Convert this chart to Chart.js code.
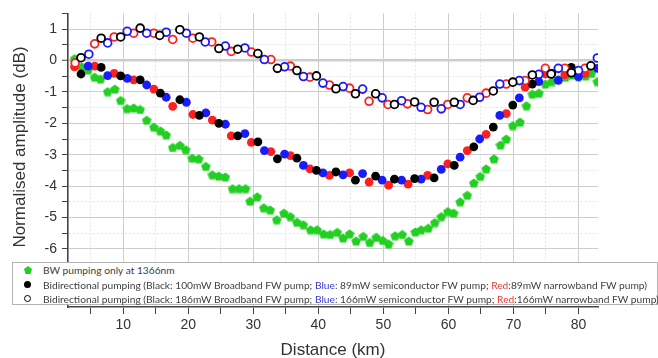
<!DOCTYPE html>
<html>
<head>
<meta charset="utf-8">
<script src="https://cdn.jsdelivr.net/npm/chart.js@4.4.1/dist/chart.umd.min.js"></script>
<style>
  html, body { margin: 0; padding: 0; background: #fff; }
  #wrap { position: relative; width: 658px; height: 358px; }
  #legend {
    position: absolute; left: 12px; top: 262px; width: 646px; height: 43px;
    box-sizing: border-box; border: 1px solid #b4b4b4; background: #fff;
    font-family: Lato, "Open Sans", sans-serif; font-size: 10px; color: #404040;
  }
  .row { position: absolute; left: 30px; height: 14px; line-height: 14px; white-space: nowrap; }
  .mk { position: absolute; left: 11px; width: 7px; height: 7px; box-sizing: border-box; }
  .blue { color: #3a3ad6; }
  .red { color: #e63a3a; }
</style>
</head>
<body>
<div id="wrap">
  <canvas id="chart" width="658" height="358"></canvas>
  <div id="legend">
    <span class="mk" style="top:3px;background:#22d022;clip-path:polygon(50% 0,100% 38%,81% 100%,19% 100%,0 38%);width:8px;height:8px;"></span>
    <div class="row" style="top:0px">BW pumping only at 1366nm</div>
    <span class="mk" style="top:18px;background:#000;border-radius:50%;"></span>
    <div class="row" id="row2" style="top:15px">Bidirectional pumping (Black: 100mW Broadband FW pump; <span class="blue">Blue</span>: 89mW semiconductor FW pump; <span class="red">Red</span>:89mW narrowband FW pump)</div>
    <span class="mk" style="top:32px;border:1.6px solid #000;border-radius:50%;"></span>
    <div class="row" style="top:29px">Bidirectional pumping (Black: 186mW Broadband FW pump; <span class="blue">Blue</span>: 166mW semiconductor FW pump; <span class="red">Red</span>:166mW narrowband FW pump)</div>
  </div>
</div>
<script>
/* ---------- data (distance in km, normalised amplitude in dB) ---------- */
const X_TITLE = "Distance (km)";
const Y_TITLE = "Normalised amplitude (dB)";

// BW pumping only (green)
const greenKm = [2.5, 3.6, 4.6, 5.6, 6.5, 7.6, 8.7, 9.6, 10.6, 11.6, 12.6, 13.6, 14.7, 15.7, 16.6, 17.6, 18.7, 19.6, 20.6, 21.6,
  22.7, 23.7, 24.7, 25.7, 26.8, 27.8, 28.8, 29.5, 30.6, 31.6, 32.6, 33.6, 34.7, 35.7, 36.7, 37.7, 38.8, 39.8, 40.8, 41.8,
  42.9, 43.8, 44.8, 45.8, 46.9, 47.9, 48.9, 49.9, 50.8, 51.8, 52.9, 53.9, 54.9, 55.8, 56.9, 57.9, 58.9, 59.9, 60.8, 61.8,
  62.9, 63.9, 64.9, 65.8, 67.0, 68.0, 68.9, 69.9, 71.0, 72.0, 72.9, 73.9, 74.9, 75.9, 76.9, 78.0, 79.0, 80.0, 81.1, 82.0, 82.9];
const greenDb = [0.06, -0.2, -0.3, -0.53, -0.59, -0.99, -0.91, -1.27, -1.53, -1.51, -1.56, -1.9, -2.12, -2.24, -2.37, -2.77, -2.7, -2.84, -3.11, -3.13,
  -3.37, -3.64, -3.68, -3.71, -4.08, -4.08, -4.08, -4.48, -4.34, -4.69, -4.76, -5.07, -4.86, -4.97, -5.15, -5.23, -5.39, -5.39, -5.52, -5.54,
  -5.47, -5.65, -5.52, -5.75, -5.6, -5.79, -5.63, -5.73, -5.84, -5.58, -5.54, -5.75, -5.46, -5.39, -5.34, -5.16, -4.97, -4.81, -4.86, -4.5,
  -4.29, -3.9, -3.69, -3.45, -3.13, -2.69, -2.5, -2.07, -1.96, -1.44, -1.07, -1.04, -0.75, -0.67, -0.6, -0.53, -0.46, -0.51, -0.49, -0.41, -0.67];

// Bidirectional pumping, lower FW power (filled markers)
const fillBlackKm = [3.5, 6.6, 9.6, 12.6, 15.7, 18.7, 21.7, 24.7, 27.6, 30.7, 33.7, 36.7, 39.7, 42.7, 45.7, 48.8, 51.7, 54.8, 57.8, 60.9, 63.9, 66.9, 69.9, 72.9, 75.9, 78.9];
const fillBlackDb = [-0.43, -0.22, -0.49, -0.62, -1.04, -1.25, -1.75, -2.0, -2.4, -2.59, -3.13, -3.11, -3.5, -3.55, -3.81, -3.68, -3.78, -3.76, -3.74, -3.34, -2.75, -2.12, -1.42, -0.75, -0.41, -0.22];
const fillBlueKm = [4.6, 7.6, 10.6, 13.6, 16.6, 19.7, 22.7, 25.7, 28.7, 31.7, 34.8, 37.7, 40.7, 43.8, 46.8, 49.8, 52.8, 55.8, 58.9, 61.8, 64.8, 67.9, 70.9, 73.9, 76.9, 80.0, 82.9];
const fillBlueDb = [-0.18, -0.48, -0.57, -0.78, -1.17, -1.33, -1.67, -2.03, -2.33, -2.87, -2.98, -3.34, -3.58, -3.64, -3.6, -3.81, -3.81, -3.78, -3.47, -3.08, -2.5, -1.75, -1.19, -0.67, -0.63, -0.51, -0.25];
const fillRedKm = [2.5, 5.6, 8.6, 11.6, 14.7, 17.6, 20.7, 23.7, 26.6, 29.7, 32.7, 35.7, 38.7, 41.7, 44.8, 47.8, 50.8, 53.8, 56.8, 59.9, 62.9, 65.8, 68.9, 71.8, 74.9, 77.9, 81.0];
const fillRedDb = [-0.2, -0.18, -0.41, -0.62, -0.91, -1.46, -1.72, -1.9, -2.4, -2.61, -2.9, -3.03, -3.45, -3.66, -3.58, -3.87, -3.97, -3.94, -3.66, -3.29, -2.87, -2.35, -1.69, -0.85, -0.43, -0.45, -0.41];

// Bidirectional pumping, higher FW power (open markers)
const openBlackKm = [3.5, 6.6, 9.6, 12.6, 15.6, 18.7, 21.7, 24.7, 27.6, 30.7, 33.7, 36.7, 39.7, 42.7, 45.7, 48.8, 51.7, 54.8, 57.8, 60.9, 63.8, 66.9, 69.9, 72.9, 75.8, 78.9, 81.9];
const openBlackDb = [0.09, 0.71, 0.75, 1.03, 0.8, 0.98, 0.75, 0.38, 0.36, 0.22, -0.25, -0.32, -0.49, -0.9, -1.06, -1.06, -1.4, -1.32, -1.33, -1.33, -1.27, -0.97, -0.69, -0.46, -0.43, -0.39, -0.17];
const openBlueKm = [4.7, 7.6, 10.6, 13.6, 16.6, 19.7, 22.6, 25.7, 28.7, 31.7, 34.8, 37.7, 40.7, 43.8, 46.8, 49.8, 52.8, 55.8, 58.9, 61.8, 64.8, 67.9, 70.9, 73.9, 76.9, 80.0, 82.9];
const openBlueDb = [0.2, 0.56, 0.93, 0.87, 0.9, 0.87, 0.59, 0.46, 0.4, 0.03, -0.2, -0.51, -0.72, -0.83, -0.91, -1.19, -1.28, -1.49, -1.54, -1.4, -1.17, -0.75, -0.64, -0.44, -0.25, -0.32, 0.08];
const openRedKm = [2.6, 5.6, 8.6, 11.6, 14.7, 17.6, 20.7, 23.6, 26.6, 29.7, 32.7, 35.7, 38.7, 41.7, 44.8, 47.8, 50.7, 53.7, 56.8, 59.9, 62.9, 65.8, 68.9, 71.8, 74.9, 77.9, 81.0];
const openRedDb = [-0.08, 0.53, 0.75, 0.87, 0.87, 0.67, 0.71, 0.59, 0.29, 0.27, 0.03, -0.18, -0.53, -0.78, -0.88, -1.3, -1.4, -1.38, -1.56, -1.4, -1.19, -1.04, -0.75, -0.64, -0.25, -0.25, -0.25];

/* ---------- helpers ---------- */
function pts(xs, ys) {
  return xs.map((x, i) => ({ x: x, y: ys[i] }));
}

// pentagon marker for the green series
function pentagon(size, color) {
  const c = document.createElement("canvas");
  c.width = size; c.height = size;
  const g = c.getContext("2d");
  const r = size / 2;
  g.fillStyle = color;
  g.beginPath();
  for (let i = 0; i < 5; i++) {
    const a = -Math.PI / 2 + i * 2 * Math.PI / 5;
    const px = r + r * Math.cos(a), py = r + 0.5 + r * Math.sin(a);
    if (i === 0) g.moveTo(px, py); else g.lineTo(px, py);
  }
  g.closePath();
  g.fill();
  return c;
}

const GREEN = "#22d022", BLACK = "#000000", BLUE = "#1a1aff", RED = "#ff1f1f";
const tickFont = { family: "'Liberation Sans Narrow', 'Liberation Sans', Arial, sans-serif", size: 14 };

function openSet(xs, ys, col) {
  return { data: pts(xs, ys), pointRadius: 3.9, borderWidth: 1.8, borderColor: col, backgroundColor: "#fff", pointHoverRadius: 3.9 };
}
function fillSet(xs, ys, col) {
  return { data: pts(xs, ys), pointRadius: 4.4, borderWidth: 0, borderColor: col, backgroundColor: col, pointHoverRadius: 4.4 };
}

const axisTitles = {
  id: "axisTitles",
  afterDraw(chart) {
    const c = chart.ctx, a = chart.chartArea;
    c.save();
    c.fillStyle = "#333";
    c.font = "17px 'Liberation Sans', Arial, sans-serif";
    c.textAlign = "center";
    c.textBaseline = "middle";
    c.fillText(X_TITLE, (a.left + a.right) / 2, a.bottom + 43);
    c.translate(20, 147);
    c.rotate(-Math.PI / 2);
    c.fillText(Y_TITLE, 0, 0);
    c.restore();
  }
};

function isMinor(ctx, step) {
  return ctx.tick && Math.abs(ctx.tick.value / step - Math.round(ctx.tick.value / step)) > 1e-6;
}

new Chart(document.getElementById("chart"), {
  type: "scatter",
  data: {
    datasets: [
      openSet(openBlackKm, openBlackDb, BLACK),
      openSet(openBlueKm, openBlueDb, BLUE),
      openSet(openRedKm, openRedDb, RED),
      fillSet(fillBlackKm, fillBlackDb, BLACK),
      fillSet(fillBlueKm, fillBlueDb, BLUE),
      fillSet(fillRedKm, fillRedDb, RED),
      { data: pts(greenKm, greenDb), pointStyle: pentagon(10, GREEN), pointRadius: 5, backgroundColor: GREEN, borderColor: GREEN }
    ]
  },
  options: {
    responsive: false,
    animation: false,
    devicePixelRatio: 1,
    layout: { padding: { top: 8, right: 60, left: 0, bottom: 0 } },
    plugins: { legend: { display: false }, tooltip: { enabled: false } },
    scales: {
      x: {
        type: "linear", min: 1.5, max: 83,
        afterFit(s) { s.height = 51; },
        border: { color: "#444", width: 1.6, dash: ctx => isMinor(ctx, 10) ? [2, 2] : [] },
        grid: {
          color: ctx => isMinor(ctx, 10) ? "#e4e4e4" : "#cdcdcd",
          lineWidth: 1, tickLength: 7, tickColor: "#444", tickWidth: 1
        },
        ticks: {
          stepSize: 5, includeBounds: false, autoSkip: false, maxRotation: 0, padding: 3,
          color: "#333", font: tickFont,
          callback: v => (Math.abs(v % 10) < 1e-6 ? v : "")
        }
      },
      y: {
        min: -7.85, max: 1.5,
        afterFit(s) { s.width = 68; },
        border: { color: "#444", width: 1.6, dash: ctx => isMinor(ctx, 1) ? [2, 2] : [] },
        grid: {
          color: ctx => {
            if (!ctx.tick) return "#cdcdcd";
            if (ctx.tick.value > 1.4) return "rgba(0,0,0,0)";
            return isMinor(ctx, 1) ? "#e4e4e4" : "#cdcdcd";
          },
          lineWidth: ctx => (ctx.tick && ctx.tick.value === 0 ? 2.5 : 1),
          tickLength: 6, tickColor: "#444", tickWidth: 1
        },
        ticks: {
          stepSize: 0.5, includeBounds: false, autoSkip: false, padding: 5,
          color: "#333", font: tickFont,
          callback: v => (Number.isInteger(v) ? v : "")
        }
      }
    }
  },
  plugins: [axisTitles]
});

// fit legend text to the width it has in the original (second line ~603px)
function fitLegend() {
  const lg = document.getElementById("legend");
  const r2 = document.getElementById("row2");
  const w = r2.scrollWidth;
  if (w > 0) {
    const fs = parseFloat(getComputedStyle(lg).fontSize) * 603 / w;
    lg.style.fontSize = fs.toFixed(2) + "px";
  }
}
fitLegend();
if (document.fonts && document.fonts.ready) document.fonts.ready.then(fitLegend);
</script>
</body>
</html>
